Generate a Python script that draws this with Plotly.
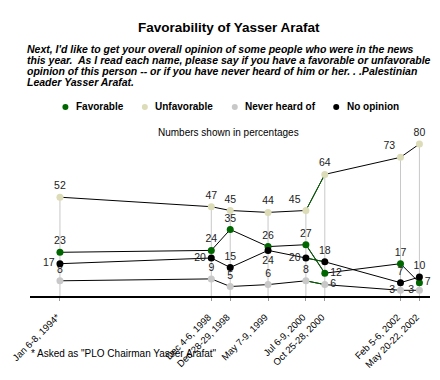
import plotly.graph_objects as go

# ---- data ----
dates = ["Jan 6-8, 1994*", "Dec 4-6, 1998", "Dec 28-29, 1998", "May 7-9, 1999",
         "Jul 6-9, 2000", "Oct 25-28, 2000", "Feb 5-6, 2002", "May 20-22, 2002"]
slot = [0, 8, 9, 11, 13, 14, 18, 19]  # position slots on the (compressed) time axis
favorable = [23, 24, 35, 26, 27, 12, 17, 7]
unfavorable = [52, 47, 45, 44, 45, 64, 73, 80]
never_heard = [8, 9, 5, 6, 8, 6, 3, 3]
no_opinion = [17, 20, 15, 24, 20, 18, 7, 10]

# ---- styles ----
C_FAV = "#006600"
C_UNF = "#dcdcb8"
C_NEV = "#c8c8c8"
C_NO = "#000000"
FONT = "Liberation Sans, Arial, sans-serif"

W, H = 440, 380
ML, MR, MT, MB = 12, 10, 125, 75


def px(x):
    return (x - ML) / (W - ML - MR)


def py(y):
    return (H - MB - y) / (H - MT - MB)


series = [
    ("Favorable", favorable, C_FAV,
     ["top center", "top center", "top center", "top center", "top center", "middle right", "top center", "middle right"]),
    ("Unfavorable", unfavorable, C_UNF,
     ["top center", "top center", "top center", "top center", "top left", "top center", "top left", "top center"]),
    ("Never heard of", never_heard, C_NEV,
     ["top center", "top center", "top center", "top center", "top center", "middle right", "middle left", "middle left"]),
    ("No opinion", no_opinion, C_NO,
     ["middle left", "middle left", "top center", "bottom center", "middle left", "top center", "top center", "top center"]),
]

fig = go.Figure()

# vertical drop lines from baseline to the highest value of each survey
dx, dy = [], []
for i, x in enumerate(slot):
    top = max(favorable[i], unfavorable[i], never_heard[i], no_opinion[i])
    dx += [x, x, None]
    dy += [0, top, None]
fig.add_trace(go.Scatter(x=dx, y=dy, mode="lines", line=dict(color="#c8c8c8", width=1),
                         hoverinfo="skip", showlegend=False, cliponaxis=False))

# connecting lines (black), with the Jul-Oct 2000 segment in green
jul = dates.index("Jul 6-9, 2000")
for name, vals, col, pos in series:
    fig.add_trace(go.Scatter(x=slot, y=vals, mode="lines", line=dict(color="#000000", width=1),
                             hoverinfo="skip", showlegend=False))
    fig.add_trace(go.Scatter(x=slot[jul:jul + 2], y=vals[jul:jul + 2], mode="lines",
                             line=dict(color=C_FAV, width=1), hoverinfo="skip", showlegend=False))

# markers and value labels
for name, vals, col, pos in series:
    fig.add_trace(go.Scatter(x=slot, y=vals, mode="markers+text", name=name,
                             marker=dict(color=col, size=7),
                             text=[str(v) for v in vals], textposition=pos,
                             textfont=dict(family=FONT, size=10.5, color="#222222"),
                             cliponaxis=False, showlegend=False))

# ---- text ----
ann = [
    dict(text="<b>Favorability of Yasser Arafat</b>", x=220, y=22, xanchor="center",
         font=dict(size=13.5, color="#000")),
    dict(text="Numbers shown in percentages", x=219.5, y=133, xanchor="center",
         font=dict(size=10, color="#000")),
    dict(text='* Asked as "PLO Chairman Yasser Arafat"', x=11, y=366, xanchor="left",
         font=dict(size=10, color="#000")),
]
q_lines = [
    "Next, I'd like to get your overall opinion of some people who were in the news",
    "this year.&nbsp; As I read each name, please say if you have a favorable or unfavorable",
    "opinion of this person -- or if you have never heard of him or her. . .Palestinian",
    "Leader Yasser Arafat.",
]
for k, line in enumerate(q_lines):
    ann.append(dict(text="<b><i>" + line + "</i></b>", x=7, y=45.5 + k * 11.5, xanchor="left",
                    font=dict(size=10.5, color="#000")))

legend_items = [("Favorable", C_FAV, 49), ("Unfavorable", C_UNF, 132),
                ("Never heard of", C_NEV, 226), ("No opinion", C_NO, 332)]
shapes = []
for label, col, lx in legend_items:
    ann.append(dict(text="<b>" + label + "</b>", x=lx + 9, y=106, xanchor="left",
                    font=dict(size=10, color="#000")))
    shapes.append(dict(type="circle", xref="paper", yref="paper", xsizemode="pixel", ysizemode="pixel",
                       xanchor=px(lx), yanchor=py(106), x0=-3, x1=3, y0=-3, y1=3,
                       fillcolor=col, line=dict(width=0)))

annotations = []
for a in ann:
    a = dict(a)
    a["x"] = px(a["x"])
    a["y"] = py(a["y"])
    a.update(xref="paper", yref="paper", yanchor="middle", showarrow=False)
    a["font"] = dict(family=FONT, **a["font"])
    annotations.append(a)

fig.update_layout(
    width=W, height=H,
    margin=dict(l=ML, r=MR, t=MT, b=MB),
    paper_bgcolor="white", plot_bgcolor="white",
    showlegend=False,
    annotations=annotations,
    shapes=shapes,
    xaxis=dict(range=[-1.583, 19.56], tickmode="array", tickvals=slot, ticktext=dates,
               tickangle=-45, tickfont=dict(family=FONT, size=9.5, color="#000"),
               ticklabeloverflow="allow", ticklabelshift=-3, ticklabelstandoff=7,
               showgrid=False, zeroline=False, showline=True, linecolor="#000", linewidth=2,
               ticks="outside", ticklen=3, tickcolor="#999", fixedrange=True),
    yaxis=dict(range=[0, 90], visible=False, fixedrange=True),
    font=dict(family=FONT),
)

fig.write_html("out.html", config={"displayModeBar": False},
               post_script="document.body.style.margin='0';document.body.style.overflow='hidden';")
